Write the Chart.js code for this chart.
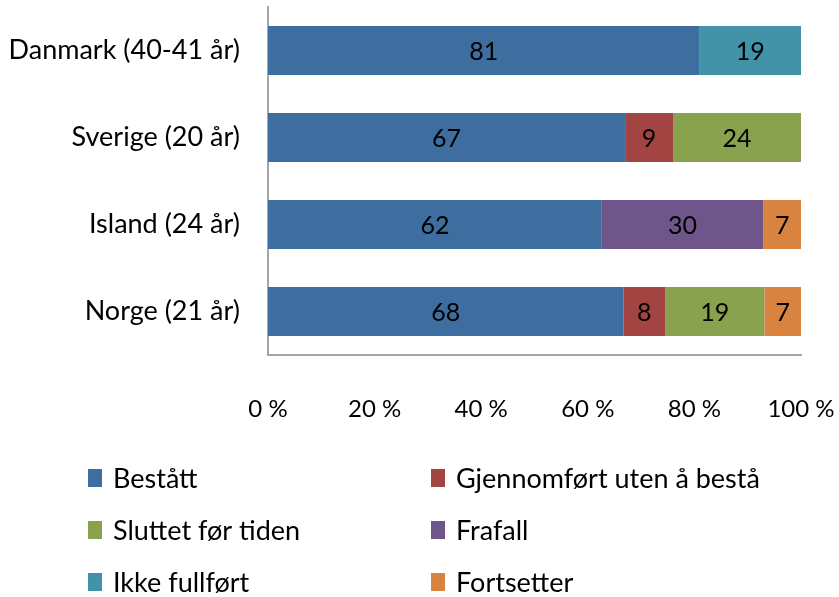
<!DOCTYPE html>
<html>
<head>
<meta charset="utf-8">
<script src="https://cdn.jsdelivr.net/npm/chart.js@4.4.0/dist/chart.umd.min.js"></script>
<style>
  html, body { margin: 0; padding: 0; background: #fff; }
</style>
</head>
<body>
<canvas id="myChart" width="839" height="597"></canvas>
<script>
// categories top to bottom
var categories = ['Danmark (40-41 år)', 'Sverige (20 år)', 'Island (24 år)', 'Norge (21 år)'];
var seriesNames = ['Bestått', 'Gjennomført uten å bestå', 'Sluttet før tiden', 'Frafall', 'Ikke fullført', 'Fortsetter'];

// values as labelled in the bars (the chart is a 100 % stacked one)
var bestatt      = [81, 67, 62, 68];
var gjennomfort  = [null, 9, null, 8];
var sluttet      = [null, 24, null, 19];
var frafall      = [null, null, 30, null];
var ikkeFullfort = [19, null, null, null];
var fortsetter   = [null, null, 7, 7];

var xTicks = [0, 20, 40, 60, 80, 100];

var colors = ['#3d6e9f', '#a24542', '#88a24d', '#6e568a', '#4393a8', '#d8833f'];
var FONT = 'Lato, "Open Sans", sans-serif';

var series = [bestatt, gjennomfort, sluttet, frafall, ikkeFullfort, fortsetter];

// totals per category, used to scale each bar to 100 %
var totals = categories.map(function(c, i){
  var s = 0;
  series.forEach(function(arr){ if (arr[i] != null) s += arr[i]; });
  return s;
});

var datasets = series.map(function(arr, k){
  return {
    label: seriesNames[k],
    backgroundColor: colors[k],
    borderWidth: 0,
    raw: arr,
    data: arr.map(function(v, i){ return v == null ? null : v / totals[i] * 100; })
  };
});

// value labels in the middle of each segment
var barLabels = {
  id: 'barLabels',
  afterDatasetsDraw: function(chart){
    var ctx = chart.ctx;
    ctx.save();
    ctx.font = '25px ' + FONT;
    ctx.fillStyle = '#000';
    ctx.textAlign = 'center';
    ctx.textBaseline = 'middle';
    chart.data.datasets.forEach(function(ds, k){
      var meta = chart.getDatasetMeta(k);
      meta.data.forEach(function(el, i){
        if (ds.raw[i] == null) return;
        var p = el.getCenterPoint();
        ctx.fillText(String(ds.raw[i]), p.x, p.y + 1);
      });
    });
    ctx.restore();
  }
};

// two column legend under the axis
var gridLegend = {
  id: 'gridLegend',
  afterDraw: function(chart){
    var ctx = chart.ctx;
    var colX = [88, 431];
    var rowY = [478, 530, 582];
    ctx.save();
    ctx.font = '27px ' + FONT;
    ctx.textBaseline = 'middle';
    ctx.textAlign = 'left';
    chart.data.datasets.forEach(function(ds, k){
      var x = colX[k % 2], y = rowY[Math.floor(k / 2)];
      ctx.fillStyle = ds.backgroundColor;
      ctx.fillRect(x, y - 9, 14, 18);
      ctx.fillStyle = '#000';
      ctx.fillText(ds.label, x + 25, y + 1);
    });
    ctx.restore();
  }
};

const config = {
  type: 'bar',
  data: { labels: categories, datasets: datasets },
  options: {
    indexAxis: 'y',
    responsive: false,
    animation: false,
    layout: { padding: { top: 7, right: 38, left: 0, bottom: 0 } },
    plugins: {
      legend: { display: false },
      tooltip: { enabled: false }
    },
    scales: {
      x: {
        stacked: true,
        min: 0,
        max: 100,
        afterBuildTicks: function(scale){
          scale.ticks = xTicks.map(function(v){ return { value: v }; });
        },
        afterFit: function(scale){
          scale.height = 242;
          scale.paddingLeft = 0;
          scale.paddingRight = 0;
        },
        grid: { display: false, drawTicks: false },
        border: { display: true, color: '#a6a6a6', width: 2 },
        ticks: {
          padding: 40,
          color: '#000',
          font: { size: 24, family: FONT },
          callback: function(v){ return v + ' %'; }
        }
      },
      y: {
        stacked: true,
        afterFit: function(scale){
          scale.width = 268;
          scale.paddingTop = 0;
          scale.paddingBottom = 0;
        },
        grid: { display: false, drawTicks: false },
        border: { display: true, color: '#a6a6a6', width: 2 },
        ticks: {
          padding: 28,
          color: '#000',
          font: { size: 27, family: FONT }
        }
      }
    },
    datasets: { bar: { categoryPercentage: 1, barPercentage: 0.565 } }
  },
  plugins: [barLabels, gridLegend]
};

const myChart = new Chart(document.getElementById('myChart'), config);
</script>
</body>
</html>
